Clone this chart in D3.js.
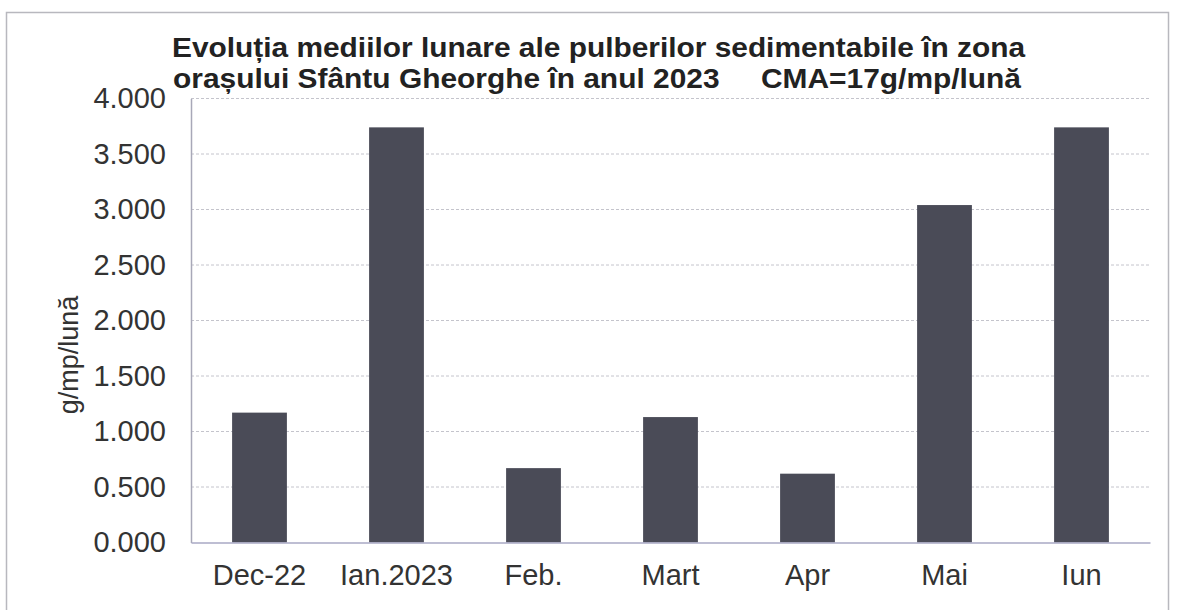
<!DOCTYPE html>
<html><head><meta charset="utf-8">
<script src="https://cdn.jsdelivr.net/npm/d3@7"></script>
<style>html,body{margin:0;padding:0;background:#fff;}svg{display:block;}</style>
</head><body>
<script>
const categories = ["Dec-22", "Ian.2023", "Feb.", "Mart", "Apr", "Mai", "Iun"];
const values = [1.17, 3.74, 0.67, 1.13, 0.62, 3.04, 3.74];
const yTicks = [0, 0.5, 1, 1.5, 2, 2.5, 3, 3.5, 4];
const titleLines = ["Evoluția mediilor lunare ale pulberilor sedimentabile în zona",
                    "orașului Sfântu Gheorghe în anul 2023     CMA=17g/mp/lună"];
const yTitle = "g/mp/lună";

const W = 1179, H = 610;
const m = {left: 191, right: 1150, top: 98.5, bottom: 542.5};
const svg = d3.select("body").append("svg").attr("width", W).attr("height", H);
const font = "'Liberation Sans', Arial, sans-serif";

// frame
svg.append("rect").attr("x", 6.5).attr("y", 12.5).attr("width", 1162).attr("height", 620)
  .attr("fill", "none").attr("stroke", "#b8b8be").attr("stroke-width", 1.5);

const x = d3.scaleBand().domain(categories).range([m.left, m.right]).paddingInner(0.6).paddingOuter(0.3);
const y = d3.scaleLinear().domain([0, 4]).range([m.bottom, m.top]);

// gridlines
svg.append("g").selectAll("line").data(yTicks.filter(d => d > 0)).join("line")
  .attr("x1", m.left).attr("x2", m.right)
  .attr("y1", d => y(d)).attr("y2", d => y(d))
  .attr("stroke", "#c4c4cc").attr("stroke-width", 1).attr("stroke-dasharray", "3,2");

// bars
svg.append("g").selectAll("rect").data(values).join("rect")
  .attr("x", (d, i) => x(categories[i]))
  .attr("width", x.bandwidth())
  .attr("y", d => y(d))
  .attr("height", d => y(0) - y(d))
  .attr("fill", "#4a4b57");

// axes
const yAxis = d3.axisLeft(y).tickValues(yTicks).tickSize(0).tickPadding(25)
  .tickFormat(d => d3.format(".3f")(d));
const gy = svg.append("g").attr("transform", `translate(${m.left},0)`).call(yAxis);
gy.select(".domain").attr("stroke", "#a8a8b8").attr("stroke-width", 1.5);
gy.selectAll("text").attr("font-family", font).attr("font-size", 29).attr("fill", "#333");

const xAxis = d3.axisBottom(x).tickSize(0).tickPadding(22);
const gx = svg.append("g").attr("transform", `translate(0,${m.bottom})`).call(xAxis);
gx.select(".domain").attr("stroke", "#a8a8c4").attr("stroke-width", 1.5);
gx.selectAll("text").attr("font-family", font).attr("font-size", 29).attr("fill", "#333");

// title
const titleLen = [853, 848];
svg.append("g").selectAll("text").data(titleLines).join("text")
  .attr("x", (d, i) => i === 0 ? 172 : 173).attr("y", (d, i) => 57 + i * 31)
  .attr("font-family", font).attr("font-weight", "bold").attr("font-size", 28)
  .attr("fill", "#222").style("white-space", "pre")
  .attr("textLength", (d, i) => titleLen[i]).attr("lengthAdjust", "spacingAndGlyphs")
  .text(d => d);

// y title
svg.append("text").attr("transform", "translate(78,355) rotate(-90)")
  .attr("text-anchor", "middle").attr("font-family", font).attr("font-size", 27)
  .attr("fill", "#333").text(yTitle);
</script>
</body></html>
